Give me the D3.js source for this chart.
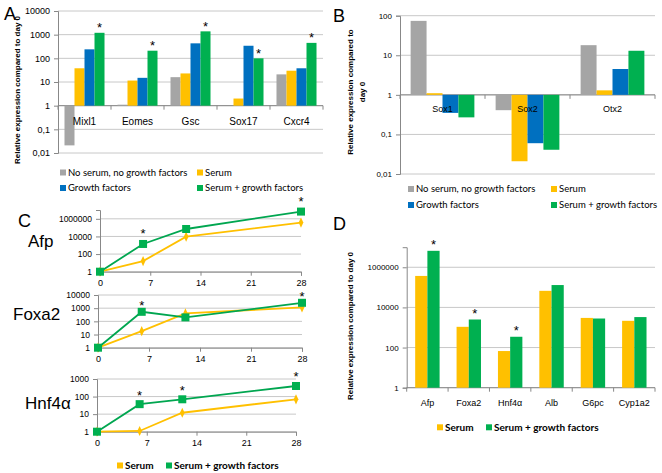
<!DOCTYPE html>
<html>
<head>
<meta charset="utf-8">
<script src="https://cdn.jsdelivr.net/npm/d3@7"></script>
<style>
  body { margin: 0; background: #fff; }
  svg { display: block; }
  text { font-family: "Liberation Sans", Arial, sans-serif; fill: #000; }
  .lg { font-family: Lato, "Noto Sans", sans-serif; }
</style>
</head>
<body>
<svg id="chart" width="662" height="473"></svg>
<script>
// panel A - mesendoderm markers
const aCats = ["Mixl1", "Eomes", "Gsc", "Sox17", "Cxcr4"];
const aNone = [0.021, 1.1, 16, 1, 21];
const aSerum = [38, 11.5, 23, 2, 30];
const aGF = [240, 15, 430, 340, 38];
const aSerumGF = [1200, 210, 1380, 100, 450];
const aStars = [1, 1, 1, 1, 1];
const aTicks = [0.01, 0.1, 1, 10, 100, 1000, 10000];
const aTickLabels = ["0,01", "0,1", "1", "10", "100", "1000", "10000"];

// panel B - neural markers
const bCats = ["Sox1", "Sox2", "Otx2"];
const bNone = [74, 0.41, 18];
const bSerum = [1.1, 0.021, 1.3];
const bGF = [0.35, 0.06, 4.5];
const bSerumGF = [0.27, 0.041, 13];
const bTicks = [0.01, 0.1, 1, 10, 100];
const bTickLabels = ["0,01", "0,1", "1", "10", "100"];

// panel C - time course (days)
const days = [0, 6, 12, 28];
const dayTicks = [0, 7, 14, 21, 28];
const afpSerum = [1, 16, 9500, 370000];
const afpSerumGF = [1, 1400, 70000, 6600000];
const afpStars = [0, 1, 0, 1];
const foxa2Serum = [1, 18, 400, 1150];
const foxa2SerumGF = [1, 530, 200, 2560];
const foxa2Stars = [0, 1, 0, 1];
const hnf4aSerum = [1, 1.1, 12, 70];
const hnf4aSerumGF = [1, 37, 70, 400];
const hnf4aStars = [0, 1, 1, 1];

// panel D - hepatic markers at day 28
const dCats = ["Afp", "Foxa2", "Hnf4α", "Alb", "G6pc", "Cyp1a2"];
const dSerum = [370000, 1080, 67, 67000, 3000, 2150];
const dSerumGF = [6600000, 2500, 345, 130000, 2800, 3300];
const dStars = [1, 1, 1, 0, 0, 0];
const dTicks = [1, 100, 10000, 1000000];
const dTickLabels = ["1", "100", "10000", "1000000"];

const grey = "#a5a5a5", yellow = "#ffc000", blue = "#0070c0", green = "#00b050";
const gridCol = "#c8c8c8", axisCol = "#888";

const svg = d3.select("#chart");

function yAxis(g, y, x0, x1, ticks, labels, fs, font) {
  g.append("g").selectAll("line").data(ticks).enter().append("line")
    .attr("x1", x0).attr("x2", x1)
    .attr("y1", d => y(d)).attr("y2", d => y(d))
    .attr("stroke", gridCol).attr("stroke-width", 1);
  const ax = g.append("g").attr("transform", `translate(${x0},0)`)
    .call(d3.axisLeft(y).tickValues(ticks).tickSize(4).tickPadding(4)
      .tickFormat((d, i) => labels[i]));
  ax.select(".domain").attr("stroke", axisCol);
  ax.selectAll(".tick line").attr("stroke", axisCol);
  ax.selectAll(".tick text").attr("font-size", fs).attr("font-family", font);
}

function barPanel(o) {
  const g = svg.append("g");
  const y = d3.scaleLog().domain(o.domain).range([o.yBot, o.yTop]);
  const x = d3.scaleBand().domain(o.cats).range([o.x0, o.x1]).padding(0);
  const step = x.step();
  const gw = step * o.groupFrac;
  const xs = d3.scaleBand().domain(d3.range(o.series.length))
    .range([(step - gw) / 2, (step + gw) / 2]);
  yAxis(g, y, o.x0, o.x1, o.ticks, o.tickLabels, o.tickFs, o.tickFont);
  const base = y(1);
  // value-1 line with category boundary ticks
  g.append("line").attr("x1", o.x0).attr("x2", o.x1).attr("y1", base).attr("y2", base)
    .attr("stroke", axisCol);
  g.append("g").selectAll("line").data(d3.range(o.cats.length + 1)).enter().append("line")
    .attr("x1", i => o.x0 + i * step).attr("x2", i => o.x0 + i * step)
    .attr("y1", base).attr("y2", base + 4).attr("stroke", axisCol);
  o.series.forEach((vals, si) => {
    g.append("g").selectAll("rect").data(vals).enter().append("rect")
      .attr("x", (d, i) => x(o.cats[i]) + xs(si))
      .attr("width", xs.bandwidth())
      .attr("y", d => Math.min(y(d), base))
      .attr("height", d => Math.abs(y(d) - base))
      .attr("fill", o.colors[si]);
  });
  g.append("g").selectAll("text").data(o.cats).enter().append("text")
    .attr("x", d => x(d) + step / 2).attr("y", base + o.labelDy)
    .attr("text-anchor", "middle").attr("font-size", o.labelFs)
    .attr("font-family", o.labelFont).text(d => d);
  if (o.stars) {
    const last = o.series.length - 1;
    const sv = o.series[last];
    o.stars.forEach((s, i) => {
      if (!s) return;
      g.append("text")
        .attr("x", x(o.cats[i]) + xs(last) + xs.bandwidth() / 2)
        .attr("y", y(sv[i]) - o.starGap + 7.5)
        .attr("text-anchor", "middle").attr("font-size", 13).text("*");
    });
  }
  return g;
}

function legend(items, fs, weight) {
  const g = svg.append("g");
  items.forEach(it => {
    g.append("rect").attr("x", it.x).attr("y", it.y - 3).attr("width", 6).attr("height", 6)
      .attr("fill", it.color);
    g.append("text").attr("class", "lg").attr("x", it.x + 8).attr("y", it.y)
      .attr("dy", "0.35em").attr("font-size", fs).attr("font-weight", weight || "normal")
      .text(it.label);
  });
}

function yTitle(lines, x, y, fs) {
  const t = svg.append("text").attr("transform", `translate(${x},${y}) rotate(-90)`)
    .attr("text-anchor", "middle").attr("font-size", fs).attr("font-weight", "bold");
  lines.forEach((l, i) => t.append("tspan").attr("x", 0).attr("dy", i ? 12 : 0).text(l));
}

function panelLetter(s, x, y) {
  svg.append("text").attr("x", x).attr("y", y).attr("font-size", 18).text(s);
}

// ---------- A ----------
panelLetter("A", 4, 20);
barPanel({
  cats: aCats, series: [aNone, aSerum, aGF, aSerumGF], colors: [grey, yellow, blue, green],
  x0: 58, x1: 323, yTop: 11, yBot: 153, domain: [0.01, 10000],
  ticks: aTicks, tickLabels: aTickLabels, tickFs: 9, tickFont: "Lato, sans-serif",
  groupFrac: 0.755, labelDy: 19, labelFs: 10, labelFont: "Lato, sans-serif",
  stars: aStars, starGap: 8
});
yTitle(["Relative expression compared to day 0"], 20, 90, 8);
legend([
  { x: 60, y: 172.5, color: grey, label: "No serum, no growth factors" },
  { x: 197, y: 172.5, color: yellow, label: "Serum" },
  { x: 60, y: 188, color: blue, label: "Growth factors" },
  { x: 197, y: 188, color: green, label: "Serum + growth factors" }
], 9.5);

// ---------- B ----------
panelLetter("B", 333, 22);
barPanel({
  cats: bCats, series: [bNone, bSerum, bGF, bSerumGF], colors: [grey, yellow, blue, green],
  x0: 400, x1: 655, yTop: 15.7, yBot: 174, domain: [0.01, 100],
  ticks: bTicks, tickLabels: bTickLabels, tickFs: 8, tickFont: "Liberation Sans, sans-serif",
  groupFrac: 0.75, labelDy: 17, labelFs: 9, labelFont: "Liberation Sans, sans-serif"
});
yTitle(["Relative expression compared to", "day 0"], 353, 92, 8);
legend([
  { x: 408, y: 189, color: grey, label: "No serum, no growth factors" },
  { x: 551, y: 189, color: yellow, label: "Serum" },
  { x: 408, y: 205, color: blue, label: "Growth factors" },
  { x: 551, y: 205, color: green, label: "Serum + growth factors" }
], 9.5);

// ---------- C ----------
panelLetter("C", 18, 227);

function linePanel(o) {
  const g = svg.append("g");
  const x = d3.scaleLinear().domain([0, 28]).range([o.x0, o.x1]);
  const y = d3.scaleLog().domain(o.domain).range([o.yBot, o.yTop]);
  yAxis(g, y, o.x0, o.x1, o.ticks, o.ticks.map(d => d3.format("d")(d)), 8.5, "Liberation Sans, sans-serif");
  const ax = g.append("g").attr("transform", `translate(0,${y(1)})`)
    .call(d3.axisBottom(x).tickValues(dayTicks).tickSize(4).tickPadding(4));
  ax.select(".domain").attr("stroke", axisCol);
  ax.selectAll(".tick line").attr("stroke", axisCol);
  ax.selectAll(".tick text").attr("font-size", 9);
  const line = d3.line().x((d, i) => x(days[i])).y(d => y(d));
  g.append("path").datum(o.serum).attr("d", line).attr("fill", "none")
    .attr("stroke", yellow).attr("stroke-width", 1.8);
  g.append("path").datum(o.serumGF).attr("d", line).attr("fill", "none")
    .attr("stroke", "#00a650").attr("stroke-width", 1.8);
  g.append("g").selectAll("path").data(o.serum).enter().append("path")
    .attr("d", d3.symbol(d3.symbolDiamond, 30))
    .attr("transform", (d, i) => `translate(${x(days[i])},${y(d)}) scale(0.8,1)`)
    .attr("fill", yellow);
  g.append("g").selectAll("rect").data(o.serumGF).enter().append("rect")
    .attr("x", (d, i) => x(days[i]) - 4).attr("y", d => y(d) - 4)
    .attr("width", 8).attr("height", 8).attr("fill", "#00b050");
  o.stars.forEach((s, i) => {
    if (!s) return;
    g.append("text").attr("x", x(days[i])).attr("y", y(o.serumGF[i]) - o.starGap + 7.5)
      .attr("text-anchor", "middle").attr("font-size", 13).text("*");
  });
  svg.append("text").attr("x", o.labX).attr("y", o.labY).attr("dy", "0.35em")
    .attr("font-size", 17).text(o.name);
}

linePanel({
  name: "Afp", labX: 28, labY: 241, serum: afpSerum, serumGF: afpSerumGF, stars: afpStars,
  x0: 100, x1: 301, yTop: 210, yBot: 271.7, domain: [1, 10000000],
  ticks: [1, 100, 10000, 1000000], starGap: 13
});
linePanel({
  name: "Foxa2", labX: 13, labY: 314, serum: foxa2Serum, serumGF: foxa2SerumGF, stars: foxa2Stars,
  x0: 98, x1: 302, yTop: 295, yBot: 347.7, domain: [1, 10000],
  ticks: [1, 10, 100, 1000, 10000], starGap: 9.5
});
linePanel({
  name: "Hnf4α", labX: 25, labY: 403, serum: hnf4aSerum, serumGF: hnf4aSerumGF, stars: hnf4aStars,
  x0: 97, x1: 296, yTop: 379, yBot: 431.7, domain: [1, 1000],
  ticks: [1, 10, 100, 1000], starGap: 12
});
legend([
  { x: 117, y: 465.5, color: yellow, label: "Serum" },
  { x: 166, y: 465.5, color: green, label: "Serum + growth factors" }
], 10, "bold");

// ---------- D ----------
panelLetter("D", 333, 230);
barPanel({
  cats: dCats, series: [dSerum, dSerumGF], colors: [yellow, green],
  x0: 406.7, x1: 655, yTop: 247.2, yBot: 387.7, domain: [1, 10000000],
  ticks: dTicks, tickLabels: dTickLabels, tickFs: 8, tickFont: "Liberation Sans, sans-serif",
  groupFrac: 0.59, labelDy: 18, labelFs: 9, labelFont: "Liberation Sans, sans-serif",
  stars: dStars, starGap: 9
});
yTitle(["Relative expression compared to day 0"], 353, 326, 8);
legend([
  { x: 437, y: 427.3, color: yellow, label: "Serum" },
  { x: 486, y: 427.3, color: green, label: "Serum + growth factors" }
], 10, "bold");
</script>
</body>
</html>
